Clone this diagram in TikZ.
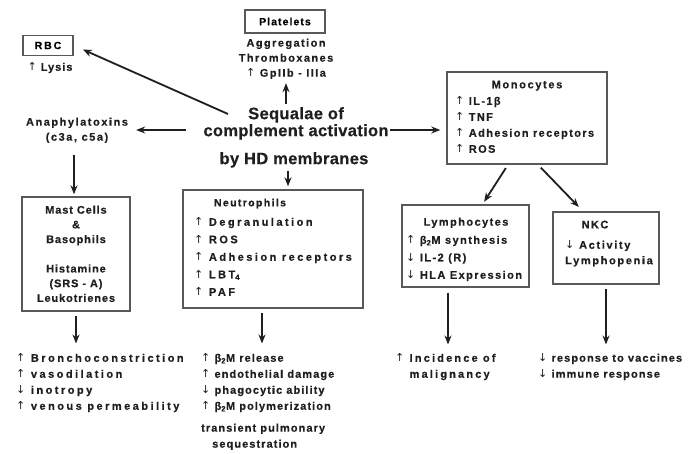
\documentclass[tikz,border=0pt]{standalone}
\usepackage{fontspec}
\setmainfont{Liberation Sans}
\newfontfamily\arrfont{DejaVu Sans}
\usetikzlibrary{arrows.meta}
\definecolor{ink}{gray}{0.12}
\definecolor{boxc}{gray}{0.35}
\newcommand\UA{{\arrfont\mdseries ↑}\ }
\newcommand\DA{{\arrfont\mdseries ↓}\ }
\newcommand\LS[1]{\addfontfeatures{LetterSpace=#1,FakeBold=0.4}}
\newcommand\FT[2]{\bfseries\fontsize{#1}{#2}\selectfont}
\begin{document}
\begin{tikzpicture}[x=1pt,y=-1pt,
  box/.style={draw=boxc, line width=1.4pt, inner sep=0pt},
  arr/.style={draw=ink, line width=1.8pt, -{Stealth[length=9pt,width=7pt]}},
  txt/.style={inner sep=0pt, text=ink}]
\useasboundingbox[fill=white] (0,0) rectangle (691,454);

% title
\node[txt, anchor=north, align=center, font=\FT{16.5}{17}\LS{2}] (seq) at (296,107) {Sequalae of\\complement activation};
\node[txt, anchor=north, font=\FT{16.5}{17}\LS{2}] (hd) at (294,152) {by HD membranes};

% platelets
\node[box, minimum width=80pt, minimum height=23pt, font=\FT{10.5}{10}\LS{10}] (plat) at (285,21.5) {Platelets};
\node[txt, anchor=north, align=center, font=\FT{11}{15}\LS{13}] (pltxt) at (286,38.5) {Aggregation\\Thromboxanes\\\UA GpIIb - IIIa};

% RBC
\node[box, minimum width=50pt, minimum height=20pt, font=\FT{10.5}{10}\LS{18}] (rbc) at (48,45.5) {RBC};
\node[txt, anchor=north, font=\FT{11}{15}\LS{9}] (lysis) at (50,62.5) {\UA Lysis};

% anaphylatoxins
\node[txt, anchor=north, align=center, font=\FT{11}{15}\LS{14}] (anaph) at (77,117.5) {Anaphylatoxins\\(c3a, c5a)};

% monocytes
\node[box, minimum width=160pt, minimum height=92pt] (mono) at (527,118) {};
\node[txt, anchor=north, font=\FT{11}{16}\LS{15}] (monot) at (527,80.5) {Monocytes};
\node[txt, anchor=north west, align=left, font=\FT{11}{16}\LS{12.5}] (monol) at (455,96.5) {\UA IL-1β\\\UA TNF\\\UA Adhesion receptors\\\UA ROS};

% lymphocytes
\node[box, minimum width=127pt, minimum height=82pt] (lymph) at (465.5,246) {};
\node[txt, anchor=north, font=\FT{11}{16}\LS{13}] (lympht) at (466,217.5) {Lymphocytes};
\node[txt, anchor=north west, align=left, font=\FT{11}{17.5}\LS{13}] (lymphl) at (406,235.5) {\UA β\textsubscript{2}M synthesis\\\DA IL-2 (R)\\\DA HLA Expression};

% NKC
\node[box, minimum width=106pt, minimum height=72pt] (nkc) at (606,248) {};
\node[txt, anchor=north, font=\FT{11}{16}\LS{13}] (nkct) at (595,220.5) {NKC};
\node[txt, anchor=north west, align=left, font=\FT{11}{15.5}\LS{15}] (nkcl) at (565,240.5) {\DA Activity\\Lymphopenia};

% mast cells
\node[box, minimum width=108pt, minimum height=114pt] (mast) at (76,254) {};
\node[txt, anchor=north, align=center, font=\FT{11}{14.7}\LS{8}] (mastl) at (76,205.5) {Mast Cells\\\&\\Basophils\\[14.7pt]Histamine\\(SRS - A)\\Leukotrienes};

% neutrophils
\node[box, minimum width=180pt, minimum height=118pt] (neut) at (273,249) {};
\node[txt, anchor=north, font=\FT{10.5}{16}\LS{13}] (neutt) at (250,198.5) {Neutrophils};
\node[txt, anchor=north west, align=left, font=\FT{11}{17.5}\LS{22.5}] (neutl) at (194,217.5) {\UA Degranulation\\\UA ROS\\\UA Adhesion receptors\\\UA LBT\textsubscript{4}\\\UA PAF};

% outcomes
\node[txt, anchor=north west, align=left, font=\FT{11}{16}\LS{22.5}] (outa) at (16,353.5) {\UA Bronchoconstriction\\\UA vasodilation\\\DA inotropy\\\UA venous permeability};
\node[txt, anchor=north west, align=left, font=\FT{11}{16}\LS{9.7}] (outb) at (201,353.5) {\UA β\textsubscript{2}M release\\\UA endothelial damage\\\DA phagocytic ability\\\UA β\textsubscript{2}M polymerization};
\node[txt, anchor=north west, align=left, font=\FT{11}{16}\LS{9.7}] (outb2) at (201,423.5) {transient pulmonary\\\hspace*{11pt}sequestration};
\node[txt, anchor=north west, align=left, font=\FT{11}{16}\LS{19.7}] (outc) at (395,353.5) {\UA Incidence of\\\phantom{\UA}malignancy};
\node[txt, anchor=north west, align=left, font=\FT{11}{16}\LS{10}] (outd) at (538,353.5) {\DA response to vaccines\\\DA immune response};

% connectors
\coordinate (s1) at (228,114);
\coordinate (s2) at (186,130);
\coordinate (s3) at (390,130);
\draw[arr, shorten <=3pt, shorten >=4pt] (seq.north -| pltxt.south) -- (pltxt.south);
\draw[arr, shorten >=10pt] (s1) -- (rbc.east);
\draw[arr, shorten >=8pt] (s2) -- (s2 -| anaph.east);
\draw[arr, shorten >=6pt] (s3) -- (s3 -| mono.west);
\draw[arr, shorten <=3pt, shorten >=3pt] ([xshift=-6pt]hd.south) -- ([xshift=-6pt]hd.south |- neut.north);
\draw[arr, shorten <=12pt, shorten >=2pt] ([xshift=-3pt]anaph.south) -- ([xshift=-3pt]anaph.south |- mast.north);
\draw[arr, shorten <=4pt, shorten >=3pt] ([xshift=-19pt]mono.south) -- ([xshift=17pt]lymph.north);
\draw[arr, shorten <=4pt, shorten >=6pt] ([xshift=11pt]mono.south) -- ([xshift=-23pt]nkc.north);
\draw[arr, shorten <=4pt, shorten >=10pt] (mast.south) -- (mast.south |- outa.north);
\draw[arr, shorten <=4pt, shorten >=10pt] ([xshift=-11pt]neut.south) -- ([xshift=-11pt]neut.south |- outb.north);
\draw[arr, shorten <=5pt, shorten >=9pt] ([xshift=-17.5pt]lymph.south) -- ([xshift=-17.5pt]lymph.south |- outc.north);
\draw[arr, shorten <=4pt, shorten >=9pt] (nkc.south) -- (nkc.south |- outd.north);
\end{tikzpicture}
\end{document}
